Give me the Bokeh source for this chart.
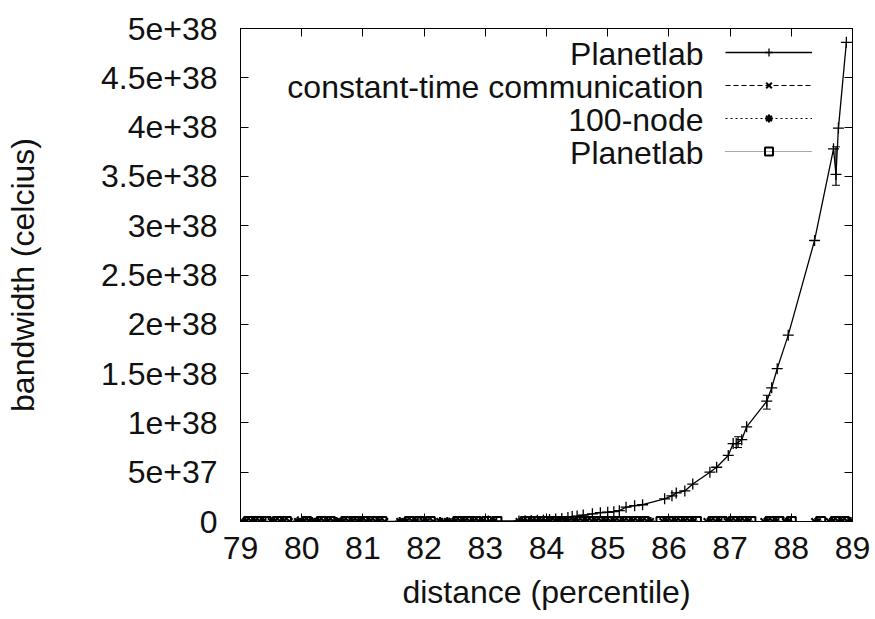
from bokeh.plotting import figure
from bokeh.models import (Range1d, LinearAxis, FixedTicker, Legend, LegendItem,
                          Label, ColumnDataSource, Whisker, TeeHead)
from bokeh.embed import file_html
from bokeh.resources import INLINE

FONT = "Liberation Sans"
FS = "32px"

# ---------------- data ----------------
x_ticks = [79, 80, 81, 82, 83, 84, 85, 86, 87, 88, 89]
y_ticks = [0, 5e37, 1e38, 1.5e38, 2e38, 2.5e38, 3e38, 3.5e38, 4e38, 4.5e38, 5e38]
y_tick_labels = ["0", "5e+37", "1e+38", "1.5e+38", "2e+38", "2.5e+38",
                 "3e+38", "3.5e+38", "4e+38", "4.5e+38", "5e+38"]

series_names = ["Planetlab", "constant-time communication", "100-node", "Planetlab"]

planetlab_x = [79.94, 80.97, 81.96, 82.6, 83.05, 83.55, 83.65, 83.75, 83.85, 83.95,
               84.05, 84.15, 84.25, 84.35, 84.42, 84.5, 84.6, 84.75, 84.88, 85.0,
               85.1, 85.19, 85.3, 85.44, 85.57, 85.93, 86.05, 86.12, 86.26, 86.39,
               86.67, 86.78, 86.97, 87.05, 87.1, 87.19, 87.27, 87.6, 87.68, 87.77,
               87.95, 88.38, 88.69, 88.73, 88.77, 88.9]
planetlab_y = [0, 0, 0, 0, 0.05e37, 0.05e37, 0.08e37, 0.1e37, 0.12e37, 0.15e37,
               0.2e37, 0.25e37, 0.3e37, 0.4e37, 0.5e37, 0.55e37, 0.65e37, 0.78e37, 0.9e37, 0.94e37,
               1.0e37, 1.1e37, 1.45e37, 1.6e37, 1.7e37, 2.3e37, 2.6e37, 2.9e37, 3.1e37, 3.8e37,
               5.0e37, 5.5e37, 6.7e37, 7.9e37, 7.9e37, 8.3e37, 9.6e37, 12.2e37, 13.56e37, 15.5e37,
               18.9e37, 28.5e37, 37.8e37, 35.2e37, 39.9e37, 48.6e37]

err_x = [87.13, 87.6, 88.73]
err_lower = [7.5e37, 11.4e37, 34.1e37]
err_upper = [8.6e37, 12.8e37, 38.0e37]

constant_time_x = [79.03, 79.18, 79.32, 79.50, 79.65, 79.80, 79.98, 80.13, 80.22, 80.37,
                   80.52, 80.62, 80.77, 80.92, 81.06, 81.21, 81.36, 81.65, 81.81, 81.98,
                   82.15, 82.32, 82.45, 82.60, 82.75, 82.90, 83.08, 83.55, 83.70, 83.85,
                   84.00, 84.15, 84.30, 84.45, 84.60, 84.75, 84.90, 85.05, 85.20, 85.35,
                   85.50, 85.65, 85.90, 86.05, 86.20, 86.35, 86.62, 86.77, 86.95, 87.10,
                   87.25, 87.55, 87.70, 87.90, 88.38, 88.62, 88.77, 88.92]
node100_x = [79.08, 79.23, 79.37, 79.55, 79.70, 79.93, 80.03, 80.17, 80.27, 80.42,
             80.57, 80.67, 80.82, 80.96, 81.11, 81.26, 81.60, 81.70, 81.86, 82.04,
             82.26, 82.38, 82.50, 82.65, 82.80, 82.95, 83.14, 83.60, 83.75, 83.90,
             84.05, 84.20, 84.35, 84.50, 84.65, 84.80, 84.95, 85.10, 85.25, 85.40,
             85.55, 85.70, 85.95, 86.10, 86.25, 86.40, 86.67, 86.82, 87.00, 87.15,
             87.30, 87.60, 87.75, 87.95, 88.43, 88.67, 88.82, 88.97]
planetlab2_x = [79.13, 79.27, 79.42, 79.60, 79.75, 80.08, 80.32, 80.47, 80.72, 80.87,
                81.01, 81.16, 81.31, 81.76, 81.92, 82.10, 82.55, 82.70, 82.85, 83.02,
                83.19, 83.65, 83.80, 83.95, 84.10, 84.25, 84.37, 84.55, 84.70, 84.85,
                85.00, 85.15, 85.30, 85.45, 85.60, 85.87, 86.00, 86.15, 86.30, 86.45,
                86.72, 86.87, 87.05, 87.20, 87.34, 87.65, 87.80, 88.00, 88.48, 88.72,
                88.87]
constant_time_y = [0.0] * len(constant_time_x)
node100_y = [0.0] * len(node100_x)
planetlab2_y = [0.0] * len(planetlab2_x)

# ---------------- figure ----------------
p = figure(width=875, height=619, output_backend="svg", toolbar_location=None,
           x_range=Range1d(79, 89), y_range=Range1d(0, 5e38),
           min_border_left=240, min_border_right=23, min_border_top=28,
           min_border_bottom=98, background_fill_color="white",
           border_fill_color="white")
p.grid.visible = False
p.outline_line_color = "black"
p.outline_line_width = 1

def style_axis(ax, labels=True):
    ax.axis_line_color = "black"
    ax.major_tick_in = 8
    ax.major_tick_out = 0
    ax.minor_tick_line_color = None
    ax.major_tick_line_color = "black"
    ax.major_label_text_font = FONT
    ax.major_label_text_font_size = FS if labels else "0px"
    ax.major_label_text_color = "#111111"
    ax.axis_label_text_font = FONT
    ax.axis_label_text_font_size = FS
    ax.axis_label_text_font_style = "normal"
    ax.axis_label_text_color = "#111111"
    if not labels:
        ax.major_label_standoff = 0

xa = p.xaxis[0]
xa.ticker = FixedTicker(ticks=x_ticks)
xa.axis_label = "distance (percentile)"
style_axis(xa)
xa.major_label_standoff = 15
xa.axis_label_standoff = 12

ya = p.yaxis[0]
ya.ticker = FixedTicker(ticks=y_ticks)
ya.major_label_overrides = dict(zip(y_ticks, y_tick_labels))
ya.axis_label = "bandwidth (celcius)"
style_axis(ya)
ya.major_label_standoff = 23
ya.axis_label_standoff = 57

top = LinearAxis(ticker=FixedTicker(ticks=x_ticks))
style_axis(top, labels=False)
p.add_layout(top, "above")
right = LinearAxis(ticker=FixedTicker(ticks=y_ticks))
style_axis(right, labels=False)
p.add_layout(right, "right")

# zero series
r2l = p.line(constant_time_x, constant_time_y, line_color="black", line_dash="5 3", line_width=1)
r2m = p.scatter(constant_time_x, constant_time_y, marker="x", size=9, line_color="black",
                line_width=2)
r3l = p.line(node100_x, node100_y, line_color="black", line_dash="2 3", line_width=1)
r3m = p.scatter(node100_x, node100_y, marker="asterisk", size=9, line_color="black",
                line_width=2)
r4l = p.line(planetlab2_x, planetlab2_y, line_color="#555555", line_dash="1 1", line_width=1)
r4m = p.scatter(planetlab2_x, planetlab2_y, marker="square", size=9, line_color="black",
                line_width=2, fill_color=None)

# main series
r1l = p.line(planetlab_x, planetlab_y, line_color="black", line_width=1.3)
r1m = p.scatter(planetlab_x, planetlab_y, marker="cross", size=11, line_color="black",
                line_width=1.3)
err_src = ColumnDataSource(dict(x=err_x, lower=err_lower, upper=err_upper))
p.add_layout(Whisker(source=err_src, base="x", lower="lower", upper="upper",
                     dimension="height", line_color="black", line_width=1.3,
                     upper_head=TeeHead(size=8, line_color="black"),
                     lower_head=TeeHead(size=8, line_color="black")))

# legend: samples via Legend, texts right-aligned to the left of them
legend = Legend(items=[LegendItem(label=" ", renderers=[r1l, r1m]),
                       LegendItem(label=" ", renderers=[r2l, r2m]),
                       LegendItem(label=" ", renderers=[r3l, r3m]),
                       LegendItem(label=" ", renderers=[r4l, r4m])],
                location=(485, 360), glyph_width=87, glyph_height=20, spacing=13,
                padding=0, margin=0, label_standoff=0, label_width=0, label_height=20,
                border_line_alpha=0, background_fill_alpha=0,
                label_text_font_size="1px")
p.add_layout(legend)

row_y = [468, 435, 402, 369]
for name, yy in zip(series_names, row_y):
    p.add_layout(Label(x=463, y=yy, x_units="screen", y_units="screen", text=name,
                       text_align="right", text_baseline="middle", text_font=FONT,
                       text_font_size=FS, text_color="#111111"))

open("out.html", "w").write(file_html(p, INLINE))
